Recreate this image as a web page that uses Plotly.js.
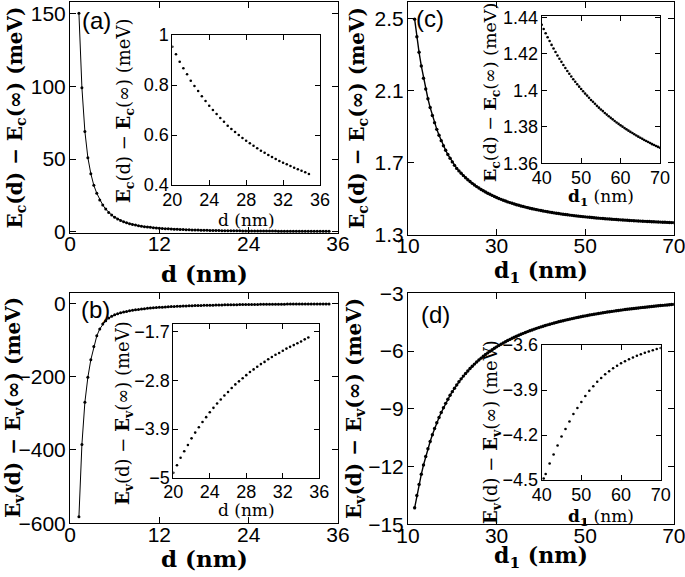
<!DOCTYPE html>
<html><head><meta charset="utf-8">
<script src="https://cdn.plot.ly/plotly-3.0.1.min.js"></script>
<style>html,body{margin:0;padding:0;background:#fff}#chart{width:685px;height:577px}</style>
</head><body><div id="chart"></div>
<script>
// ---- panel (a)/(b): d (nm) ----
const dNm = [1.2,1.6,2.0,2.4,2.8,3.2,3.6,4.0,4.4,4.8,5.2,5.6,6.0,6.4,6.8,7.2,7.6,8.0,8.4,8.8,9.2,9.6,10.0,10.4,10.8,11.2,11.6,12.0,12.4,12.8,13.2,13.6,14.0,14.4,14.8,15.2,15.6,16.0,16.4,16.8,17.2,17.6,18.0,18.4,18.8,19.2,19.6,
 20.0,20.4,20.8,21.2,21.6,22.0,22.4,22.8,23.2,23.6,24.0,24.4,24.8,25.2,25.6,26.0,26.4,26.8,27.2,27.6,28.0,28.4,28.8,29.2,29.6,30.0,30.4,30.8,31.2,31.6,32.0,32.4,32.8,33.2,33.6,34.0,34.4,34.8];
const EcShift = [150,99,69,51,40,32,26.5,22,18.5,15.7,13.4,11.6,10.1,8.9,7.9,7.05,6.33,5.72,5.19,4.73,4.33,3.98,3.67,3.4,3.16,2.95,2.76,2.59,2.44,2.3,2.17,2.05,1.94,1.84,1.745,1.66,1.58,1.505,1.435,1.37,1.31,1.25,1.195,1.145,1.095,1.05,1.0,
 0.953,0.923,0.893,0.867,0.843,0.817,0.796,0.776,0.755,0.736,0.717,0.700,0.684,0.668,0.653,0.637,0.624,0.612,0.600,0.588,0.577,0.567,0.557,0.547,0.537,0.529,0.520,0.512,0.504,0.496,0.489,0.483,0.476,0.469,0.463,0.457,0.451,0.444];
const EvShift = [-582,-385,-270,-202,-154,-118,-89,-70,-57,-47.5,-40.5,-35.5,-31.8,-28.8,-26.3,-24.2,-22.4,-20.8,-19.35,-18.05,-16.9,-15.85,-14.9,-14.04,-13.25,-12.53,-11.87,-11.26,-10.70,-10.18,-9.69,-9.24,-8.82,-8.43,-8.06,-7.72,-7.40,-7.10,-6.82,-6.55,-6.30,-6.06,-5.84,-5.63,-5.43,-5.24,-5.06,
 -4.89,-4.72,-4.55,-4.40,-4.26,-4.11,-3.98,-3.86,-3.74,-3.63,-3.52,-3.42,-3.32,-3.23,-3.14,-3.06,-2.97,-2.89,-2.82,-2.75,-2.68,-2.61,-2.55,-2.49,-2.43,-2.38,-2.32,-2.27,-2.22,-2.18,-2.13,-2.08,-2.04,-2.00,-1.96,-1.92,-1.87,-1.83];

// ---- panel (c)/(d): d1 (nm) ----
const d1Nm = [11.5,12,12.5,13,13.5,14,14.5,15,15.5,16,16.5,17,17.5,18,18.5,19,19.5,20,20.5,21,21.5,22,22.5,23,23.5,24,24.5,25,25.5,26,26.5,27,27.5,28,28.5,29,29.5,30,30.5,31,31.5,32,32.5,33,33.5,34,34.5,35,35.5,36,36.5,37,37.5,38,38.5,39,39.5,
 40,40.5,41,41.5,42,42.5,43,43.5,44,44.5,45,45.5,46,46.5,47,47.5,48,48.5,49,49.5,50,50.5,51,51.5,52,52.5,53,53.5,54,54.5,55,55.5,56,56.5,57,57.5,58,58.5,59,59.5,60,60.5,61,61.5,62,62.5,63,63.5,64,64.5,65,65.5,66,66.5,67,67.5,68,68.5,69,69.5,70];
const Ec1Shift = [2.499,2.401,2.315,2.239,2.171,2.111,2.057,2.008,1.964,1.924,1.887,1.854,1.824,1.796,1.771,1.747,1.726,1.706,1.687,1.670,1.656,1.643,1.630,1.618,1.607,1.597,1.587,1.578,1.569,1.561,1.553,1.546,1.539,1.532,1.526,1.520,1.514,1.508,1.503,1.498,1.493,1.489,1.484,1.480,1.476,1.472,1.468,1.465,1.461,1.458,1.455,1.452,1.449,1.446,1.4435,1.4409,1.4384,
 1.4359,1.4336,1.4313,1.4291,1.4270,1.4249,1.4229,1.4210,1.4191,1.4173,1.4156,1.4139,1.4122,1.4106,1.4091,1.4076,1.4061,1.4047,1.4033,1.4020,1.4007,1.3995,1.3982,1.3971,1.3959,1.3947,1.3937,1.3926,1.3915,1.3905,1.3895,1.3886,1.3876,1.3867,1.3858,1.3849,1.3841,1.3832,1.3824,1.3816,1.3808,1.3801,1.3793,1.3786,1.3779,1.3772,1.3766,1.3759,1.3752,1.3746,1.3740,1.3734,1.3728,1.3722,1.3717,1.3711,1.3705,1.3700,1.3695,1.3690,1.3685];
const Ev1Shift = [-14.144,-13.505,-12.928,-12.402,-11.920,-11.478,-11.073,-10.698,-10.350,-10.027,-9.728,-9.449,-9.189,-8.946,-8.716,-8.501,-8.299,-8.109,-7.929,-7.759,-7.597,-7.445,-7.301,-7.163,-7.033,-6.908,-6.790,-6.677,-6.569,-6.466,-6.368,-6.273,-6.183,-6.096,-6.013,-5.934,-5.857,-5.783,-5.713,-5.644,-5.579,-5.515,-5.455,-5.396,-5.338,-5.283,-5.230,-5.179,-5.129,-5.081,-5.035,-4.990,-4.946,-4.903,-4.862,-4.822,-4.784,
 -4.746,-4.710,-4.674,-4.640,-4.606,-4.573,-4.542,-4.511,-4.481,-4.451,-4.423,-4.395,-4.368,-4.342,-4.316,-4.291,-4.266,-4.242,-4.218,-4.195,-4.173,-4.151,-4.130,-4.109,-4.089,-4.069,-4.049,-4.030,-4.011,-3.993,-3.975,-3.958,-3.941,-3.924,-3.907,-3.891,-3.876,-3.860,-3.845,-3.830,-3.815,-3.801,-3.787,-3.773,-3.760,-3.746,-3.733,-3.721,-3.708,-3.695,-3.683,-3.671,-3.660,-3.648,-3.637,-3.626,-3.615,-3.604,-3.594,-3.583,-3.573];

// inset (d) read separately
const d1Inset = [40.5,41,42,43,44,45,46,47,48,49,50,51,52,53,54,55,56,57,58,59,60,61,62,63,64,65,66,67,68,69,70];
const Ev1Inset = [-4.49,-4.46,-4.39,-4.33,-4.27,-4.21,-4.16,-4.11,-4.06,-4.02,-3.98,-3.94,-3.905,-3.875,-3.845,-3.82,-3.795,-3.775,-3.755,-3.738,-3.722,-3.708,-3.695,-3.683,-3.672,-3.662,-3.652,-3.643,-3.635,-3.627,-3.62];

// ---- tick labels ----
const tA_x = [0,12,24,36], tA_y = [0,50,100,150];
const tB_y = [0,-200,-400,-600], tB_yText = ['0','\u2212200','\u2212400','\u2212600'];
const tC_x = [10,30,50,70], tC_y = [1.3,1.7,2.1,2.5];
const tD_y = [-3,-6,-9,-12,-15], tD_yText = ['\u22123','\u22126','\u22129','\u221212','\u221215'];
const tIA_x = [20,24,28,32,36], tIA_y = [0.4,0.6,0.8,1], tIA_yText = ['0.4','0.6','0.8','1'];
const tIB_y = [-5,-3.9,-2.8,-1.7], tIB_yText = ['\u22125','\u22123.9','\u22122.8','\u22121.7'];
const tIC_x = [40,50,60,70], tIC_y = [1.36,1.38,1.4,1.42,1.44], tIC_yText = ['1.36','1.38','1.4','1.42','1.44'];
const tID_y = [-4.5,-4.2,-3.9,-3.6], tID_yText = ['\u22124.5','\u22124.2','\u22123.9','\u22123.6'];

const SANS = 'Liberation Sans, Arial, sans-serif';
const SERIF = 'DejaVu Serif, serif';

function ax(domain, range, vals, text, anchor, fs, tl, so){
  const o = {domain:domain, range:range, anchor:anchor, tickmode:'array', tickvals:vals,
    ticks:'inside', ticklen:tl, tickwidth:1, tickcolor:'#000', showline:true, linecolor:'#000', linewidth:1,
    mirror:'ticks', showgrid:false, zeroline:false, fixedrange:true, ticklabeloverflow:'allow',
    ticklabelstandoff: so||0,
    tickfont:{family:SANS, size:fs, color:'#000'}};
  o.ticktext = text ? text : vals.map(String);
  return o;
}

const lineAB = {color:'#000', width:1};
const mkAB = {color:'#000', size:3};
const lineCD = {color:'#000', width:1.4};
const mkCD = {color:'#000', size:3.4};
const inMk = {color:'#000', size:2.6};

const traces = [
  {x:dNm, y:EcShift, mode:'lines+markers', line:lineAB, marker:mkAB, xaxis:'x', yaxis:'y'},
  {x:dNm, y:EvShift, mode:'lines+markers', line:lineAB, marker:mkAB, xaxis:'x2', yaxis:'y2'},
  {x:d1Nm, y:Ec1Shift, mode:'lines+markers', line:lineCD, marker:mkCD, xaxis:'x3', yaxis:'y3'},
  {x:d1Nm, y:Ev1Shift, mode:'lines+markers', line:lineCD, marker:mkCD, xaxis:'x4', yaxis:'y4'},
  {x:dNm.slice(47), y:EcShift.slice(47), mode:'markers', marker:inMk, xaxis:'x5', yaxis:'y5'},
  {x:dNm.slice(47), y:EvShift.slice(47), mode:'markers', marker:inMk, xaxis:'x6', yaxis:'y6'},
  {x:d1Nm.slice(57), y:Ec1Shift.slice(57), mode:'markers', marker:inMk, xaxis:'x7', yaxis:'y7'},
  {x:d1Inset, y:Ev1Inset, mode:'markers', marker:inMk, xaxis:'x8', yaxis:'y8'}
];

const W = 685, H = 577;
function px(x){return x/W;} function py(y){return 1-y/H;}

function ann(text, x, y, size, angle, fam){
  return {text:text, x:px(x), y:py(y), xref:'paper', yref:'paper', showarrow:false,
    xanchor:'center', yanchor:'middle', textangle:angle||0,
    font:{family:fam||SERIF, size:size, color:'#000'}};
}
const yMainC = '<b>E<sub>c</sub>(d) \u2212 E<sub>c</sub>(\u221e) (meV)</b>';
const yMainV = '<b>E<sub>v</sub>(d) \u2212 E<sub>v</sub>(\u221e) (meV)</b>';
const yInC = '<b>E</b><sub><b>c</b></sub>(d) \u2212 <b>E</b><sub><b>c</b></sub>(\u221e) (meV)';
const yInV = '<b>E</b><sub><b>v</b></sub>(d) \u2212 <b>E</b><sub><b>v</b></sub>(\u221e) (meV)';

const layout = {
  width:W, height:H, margin:{l:0,r:0,t:0,b:0}, paper_bgcolor:'#fff', plot_bgcolor:'rgba(0,0,0,0)',
  showlegend:false,
  xaxis: ax([px(70),px(338)],[0,36],tA_x,null,'y',21,6,-8),
  yaxis: ax([py(233),py(2)],[-0.7,157.8],tA_y,null,'x',21,6,-1),
  xaxis2: ax([px(70),px(338)],[0,36],tA_x,null,'y2',21,6,-8),
  yaxis2: ax([py(523.3),py(293.3)],[-600,27],tB_y,tB_yText,'x2',21,6,-1),
  xaxis3: ax([px(408),px(673.8)],[10,70],tC_x,null,'y3',21,6,-8),
  yaxis3: ax([py(235),py(1.7)],[1.3,2.596],tC_y,null,'x3',21,6,-1),
  xaxis4: ax([px(408),px(673.8)],[10,70],tC_x,null,'y4',21,6,-8),
  yaxis4: ax([py(524.3),py(293.3)],[-15,-3],tD_y,tD_yText,'x4',21,6,-1),
  xaxis5: ax([px(172.3),px(320)],[20,36],tIA_x,null,'y5',18,5,-2),
  yaxis5: ax([py(185),py(35)],[0.4,1],tIA_y,tIA_yText,'x5',18,5,-1),
  xaxis6: ax([px(173.3),px(319.3)],[20,36],tIA_x,null,'y6',18,5,-2),
  yaxis6: ax([py(477.7),py(324.3)],[-5,-1.53],tIB_y,tIB_yText,'x6',18,5,-1),
  xaxis7: ax([px(541.7),px(660)],[40,70],tIC_x,null,'y7',18,5,-2),
  yaxis7: ax([py(163.3),py(15.7)],[1.36,1.4409],tIC_y,tIC_yText,'x7',18,5,-1),
  xaxis8: ax([px(541.7),px(660.7)],[40,70],tIC_x,null,'y8',18,5,-2),
  yaxis8: ax([py(480),py(345)],[-4.5,-3.6],tID_y,tID_yText,'x8',18,5,-1),
  annotations:[
    ann('<b>d (nm)</b>',204,273,23), ann('<b>d (nm)</b>',204,558,23),
    ann('<b>d<sub>1</sub> (nm)</b>',541,272,22), ann('<b>d<sub>1</sub> (nm)</b>',541,557,22),
    ann(yMainC,15,117.5,20,-90), ann(yMainV,14,408,20,-90),
    ann(yMainC,358,118,20,-90), ann(yMainV,355,409,20,-90),
    ann('d (nm)',246,220,17), ann('d (nm)',246,509.5,17),
    ann('<b>d</b><sub><b>1</b></sub> (nm)',601,197,17), ann('<b>d</b><sub><b>1</b></sub> (nm)',601,517,17),
    ann(yInC,125,111,18,-90), ann(yInV,124,413,18,-90),
    ann(yInC,492,93,17.5,-90), ann(yInV,492,432,18,-90),
    ann('(a)',96,20,24,0,SANS), ann('(b)',95,309,24,0,SANS),
    ann('(c)',430,19,24,0,SANS), ann('(d)',435,315,24,0,SANS)
  ]
};
Plotly.newPlot('chart', traces, layout, {staticPlot:true, displayModeBar:false});
</script></body></html>
